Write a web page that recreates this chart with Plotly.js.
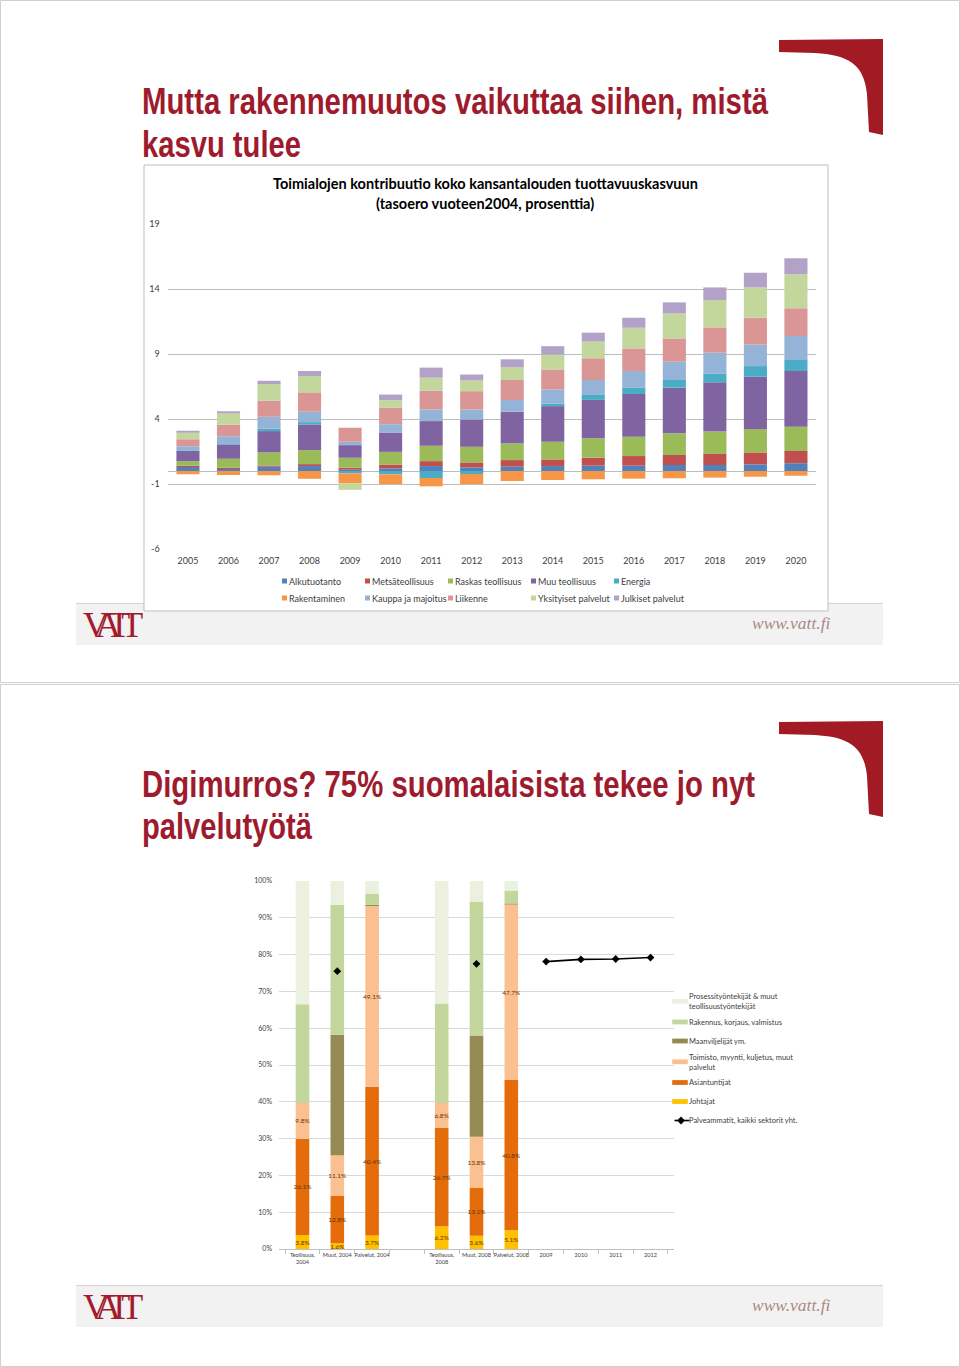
<!DOCTYPE html>
<html><head><meta charset="utf-8">
<script src="https://cdn.plot.ly/plotly-3.0.1.min.js"></script>
<style>html,body{margin:0;padding:0;background:#fff}</style>
</head><body><div id="chart" style="width:960px;height:1367px"></div>
<script>
// ---------- Chart 1 data ----------
const years = ['2005','2006','2007','2008','2009','2010','2011','2012','2013','2014','2015','2016','2017','2018','2019','2020'];
const alkutuotanto     = [0.30,0.15,0.33,0.38,0.10,0.20,0.38,0.28,0.33,0.38,0.41,0.41,0.46,0.46,0.51,0.59];
const metsateollisuus  = [0.10,0.10,0.10,0.15,0.15,0.30,0.38,0.38,0.51,0.51,0.62,0.74,0.77,0.85,0.92,0.95];
const raskasTeollisuus = [0.35,0.70,1.00,1.08,0.77,0.97,1.18,1.20,1.28,1.36,1.49,1.49,1.67,1.72,1.79,1.87];
const muuTeollisuus    = [0.80,1.08,1.64,1.97,0.97,1.49,1.90,2.10,2.44,2.74,2.95,3.28,3.51,3.79,4.03,4.28];
const energia          = [0.05,0.05,0.20,0.18,-0.18,-0.26,-0.54,-0.23,0.00,0.20,0.38,0.51,0.59,0.69,0.82,0.85];
const rakentaminen     = [-0.25,-0.30,-0.33,-0.60,-0.77,-0.74,-0.64,-0.77,-0.77,-0.69,-0.64,-0.59,-0.56,-0.51,-0.44,-0.36];
const kauppaMajoitus   = [0.30,0.60,0.90,0.80,0.26,0.64,0.90,0.77,0.90,1.08,1.15,1.26,1.41,1.59,1.67,1.85];
const liikenne         = [0.55,0.87,1.23,1.49,1.08,1.28,1.44,1.41,1.54,1.54,1.67,1.74,1.79,1.95,2.05,2.13];
const yksityisetPalv   = [0.50,0.87,1.28,1.26,-0.50,0.56,1.00,0.82,0.97,1.15,1.28,1.59,1.92,2.10,2.33,2.62];
const julkisetPalv     = [0.15,0.18,0.26,0.38,0.00,0.44,0.77,0.46,0.62,0.64,0.69,0.77,0.85,0.97,1.13,1.23];
const yTickVals1   = [-6, -1, 4, 9, 14, 19];
const yTickLabels1 = ['-6', '-1', '4', '9', '14', '19'];

const series1 = [
  ['Alkutuotanto', alkutuotanto, '#4F81BD', 'legend'],
  ['Metsäteollisuus', metsateollisuus, '#C0504D', 'legend'],
  ['Raskas teollisuus', raskasTeollisuus, '#9BBB59', 'legend'],
  ['Muu teollisuus', muuTeollisuus, '#8064A2', 'legend'],
  ['Energia', energia, '#4BACC6', 'legend'],
  ['Rakentaminen', rakentaminen, '#F79646', 'legend2'],
  ['Kauppa ja majoitus', kauppaMajoitus, '#95B3D7', 'legend2'],
  ['Liikenne', liikenne, '#D99694', 'legend2'],
  ['Yksityiset palvelut', yksityisetPalv, '#C3D69B', 'legend2'],
  ['Julkiset palvelut', julkisetPalv, '#B3A2C7', 'legend2']
];

// ---------- Chart 2 data ----------
const groups = ['Teollisuus,<br>2004','Muut, 2004','Palvelut, 2004',' ','Teollisuus,<br>2008','Muut, 2008','Palvelut, 2008','2009','2010','2011','2012'];
const johtajat       = [3.8, 1.6, 3.7, null, 6.2, 3.6, 5.1, null, null, null, null];
const asiantuntijat  = [26.1,12.8,40.4,null,26.7,13.1,40.8,null,null,null,null];
const toimisto       = [9.8, 11.1,49.1,null, 6.8,13.8,47.7,null,null,null,null];
const maanviljelijat = [0.0, 32.7, 0.3,null, 0.0,27.5, 0.3,null,null,null,null];
const rakennus       = [26.8,35.3, 3.1,null,27.0,36.4, 3.5,null,null,null,null];
const prosessi       = [33.5, 6.5, 3.4,null,33.3, 5.6, 2.6,null,null,null,null];
const palveammatit   = [null,75.5,null,null,null,77.5,null,78.1,78.7,78.8,79.2];

const W = 960, H = 1367;
const px = x => x / W;
const py = y => 1 - y / H;

const calibri = 'Lato, Carlito, Calibri, sans-serif';
const boldSans = "'Liberation Sans', Arial, sans-serif";
const titleRed = '#9E1B2E';

const traces = [];
series1.forEach(([name, vals, color, lg], i) => {
  const t = {type:'bar', x: years, y: vals, name, legend: lg,
    marker:{color, line:{width:0}}, width:0.57, xaxis:'x', yaxis:'y', hoverinfo:'skip'};
  if (i % 5 === 4) t.legendwidth = 80;   // last column: room for the full text
  traces.push(t);
});

// line first so that it ends last in the reversed legend
traces.push({type:'scatter', mode:'lines+markers', x: groups, y: palveammatit,
  name:'Palveammatit, kaikki sektorit yht.', connectgaps:false, legend:'legend3',
  line:{color:'#000000', width:1.6}, marker:{symbol:'diamond', size:6, color:'#000000'},
  xaxis:'x2', yaxis:'y2', hoverinfo:'skip'});

const series2 = [
  ['Johtajat', johtajat, '#FFC000', true],
  ['Asiantuntijat', asiantuntijat, '#E46C0A', true],
  ['Toimisto, myynti, kuljetus, muut<br>palvelut', toimisto, '#FAC090', true],
  ['Maanviljelijät ym.', maanviljelijat, '#948A54', false],
  ['Rakennus, korjaus, valmistus', rakennus, '#C3D69B', false],
  ['Prosessityöntekijät & muut<br>teollisuustyöntekijät', prosessi, '#EBF1DE', false]
];
series2.forEach(([name, vals, color, lab]) => {
  const t = {type:'bar', x: groups, y: vals, name, legend:'legend3',
    marker:{color, line:{width:0}}, width:0.39, xaxis:'x2', yaxis:'y2', hoverinfo:'skip'};
  if (lab) {
    t.texttemplate = '%{y:.1f}%';
    t.textposition = 'inside';
    t.insidetextanchor = 'middle';
    t.textangle = 0;
    t.textfont = {family: calibri, size: 6.5, color: '#6B3300'};
  }
  traces.push(t);
});

function rect(x0,y0,x1,y1,fill,lineColor,lw){
  return {type:'rect', xref:'paper', yref:'paper', x0:px(x0), x1:px(x1), y0:py(y0), y1:py(y1),
    fillcolor:fill, line:{color:lineColor||'rgba(0,0,0,0)', width:lw||0}, layer:'below'};
}
function hline(x0,x1,y,color,w){
  return {type:'line', xref:'paper', yref:'paper', x0:px(x0), x1:px(x1), y0:py(y), y1:py(y),
    line:{color, width:w||1}, layer:'below'};
}
function corner(dy){
  const p = (x,y) => px(x).toFixed(5) + ',' + py(y+dy).toFixed(5);
  return {type:'path', xref:'paper', yref:'paper', layer:'above',
    path: 'M' + p(779,40) + ' L' + p(883,39) + ' L' + p(883,135) + ' L' + p(869,132) +
          ' L' + p(867,94) + ' C' + p(864,64) + ' ' + p(848,55) + ' ' + p(815,53) + ' L' + p(779,52) + ' Z',
    fillcolor: '#A21A24', line:{width:0}};
}

const shapes = [
  rect(0.5,0.5,959.5,682.5,'rgba(0,0,0,0)','#D0D0D0',1),
  rect(0.5,684.5,959.5,1366.5,'rgba(0,0,0,0)','#D0D0D0',1),
  rect(76,603,883,645,'#F2F2F2'),
  hline(76,883,603.5,'#D3D3D3',1.2),
  rect(144,165,828,611,'#FFFFFF','#BFBFBF',1),
  rect(76,1285,883,1327,'#F2F2F2'),
  hline(76,883,1285.5,'#D3D3D3',1.2),
  corner(0),
  corner(682)
];

// target widths (px) for condensed slide titles
const titleFit = {};
function slideTitle(text, y, widthPx){
  titleFit[text] = widthPx;
  return {text, x:px(140), y:py(y), xref:'paper', yref:'paper', showarrow:false,
    xanchor:'left', yanchor:'middle', align:'left',
    font:{family:boldSans, size:37, color:titleRed, weight:'bold'}};
}
function ann(text, x, y, font, opts){
  return Object.assign({text, x:px(x), y:py(y), xref:'paper', yref:'paper', showarrow:false,
    xanchor:'left', yanchor:'middle', font}, opts||{});
}
const serif = "'Liberation Serif', 'DejaVu Serif', serif";
const annotations = [
  slideTitle('Mutta rakennemuutos vaikuttaa siihen, mistä', 101, 626),
  slideTitle('kasvu tulee', 144, 159),
  slideTitle('Digimurros? 75% suomalaisista tekee jo nyt', 784, 613),
  slideTitle('palvelutyötä', 827, 170),
  ann('Toimialojen kontribuutio koko kansantalouden tuottavuuskasvuun', 485, 183,
      {family:calibri, size:14.5, color:'#000000', weight:'bold'}, {xanchor:'center'}),
  ann('(tasoero vuoteen2004, prosenttia)', 485, 203,
      {family:calibri, size:14.5, color:'#000000', weight:'bold'}, {xanchor:'center'}),
  ann('<span style="letter-spacing:-9px">VATT</span>', 81, 625, {family:serif, size:36, color:'#A21A2E'}),
  ann('<span style="letter-spacing:-9px">VATT</span>', 81, 1307, {family:serif, size:36, color:'#A21A2E'}),
  ann('<i>www.vatt.fi</i>', 750, 623, {family:serif, size:17.5, color:'#A88A84'}),
  ann('<i>www.vatt.fi</i>', 750, 1305, {family:serif, size:17.5, color:'#A88A84'})
];

const legendBase = {orientation:'h', xanchor:'left', yanchor:'top', bgcolor:'rgba(0,0,0,0)',
  entrywidth:38, entrywidthmode:'pixels', itemwidth:30, font:{family:calibri, size:9, color:'#404040'},
  itemclick:false, itemdoubleclick:false};

const layout = {
  width: W, height: H,
  margin:{l:0, r:0, t:0, b:0},
  paper_bgcolor:'#FFFFFF', plot_bgcolor:'rgba(0,0,0,0)',
  barmode:'relative',
  hovermode:false,
  uniformtext:{mode:'show', minsize:6.5},
  xaxis:{domain:[167.7/W, 816.2/W], anchor:'y', type:'category', categoryorder:'array', categoryarray: years,
    showgrid:false, zeroline:false, showline:false, ticks:'', ticklabelstandoff:5, tickangle:0,
    tickfont:{family:calibri, size:9, color:'#404040'}, fixedrange:true},
  yaxis:{domain:[py(549), py(224)], anchor:'x', range:[-6,19], tickmode:'array',
    tickvals: yTickVals1, ticktext: yTickLabels1,
    showgrid:true, gridcolor:'#BDBDBD', gridwidth:1, zeroline:true, zerolinecolor:'#BDBDBD', zerolinewidth:1,
    showline:false, ticks:'', ticklabelstandoff:7, tickfont:{family:calibri, size:9, color:'#404040'}, fixedrange:true},
  xaxis2:{domain:[279/W, 674/W], anchor:'y2', type:'category', categoryorder:'array', categoryarray: groups,
    showgrid:false, zeroline:false, showline:true, linecolor:'#BFBFBF', linewidth:1,
    ticks:'outside', tickson:'boundaries', ticklen:4, tickcolor:'#BFBFBF', tickangle:0,
    tickfont:{family:calibri, size:5.6, color:'#404040'}, fixedrange:true},
  yaxis2:{domain:[py(1249), py(881)], anchor:'x2', range:[0,100], tickmode:'linear', tick0:0, dtick:10, ticksuffix:'%',
    showgrid:true, gridcolor:'#D9D9D9', gridwidth:1, zeroline:false, showline:false, ticks:'', ticklabelstandoff:6,
    tickfont:{family:calibri, size:7, color:'#404040'}, fixedrange:true},
  showlegend:true,
  legend: Object.assign({}, legendBase, {x:px(249), y:py(566.5)}),
  legend2: Object.assign({}, legendBase, {x:px(249), y:py(583.5)}),
  legend3:{orientation:'v', x:px(649), y:py(985), xanchor:'left', yanchor:'top', bgcolor:'rgba(0,0,0,0)',
    traceorder:'reversed', itemwidth:30, font:{family:calibri, size:7.5, color:'#404040'},
    itemclick:false, itemdoubleclick:false},
  shapes, annotations
};

function finishing(gd){
  // condense slide titles (Arial Narrow look) while keeping them as text
  gd.querySelectorAll('text.annotation-text').forEach(t => {
    const w = titleFit[t.textContent];
    if (w) {
      t.setAttribute('text-anchor', 'start');
      t.setAttribute('textLength', w);
      t.setAttribute('lengthAdjust', 'spacingAndGlyphs');
    }
  });
  // small legend keys placed right before the legend texts, like the original
  gd.querySelectorAll('g.legendpoints path').forEach(p => {
    const d = (p.getAttribute('d') || '').replace(/\s/g, '');
    if (d.indexOf('M6,6H-6V-6H6Z') !== 0) return;
    const inL3 = !!p.closest('g.legend3');
    p.setAttribute('transform', inL3 ? 'translate(31,0) scale(1.3,0.4)' : 'translate(35.5,0) scale(0.42)');
  });
  gd.querySelectorAll('g.legend3 path.js-line').forEach(p => {
    p.setAttribute('transform', 'translate(23,0) scale(0.5,1)');
  });
  gd.querySelectorAll('g.legend3 path.scatterpts').forEach(p => {
    p.setAttribute('transform', 'translate(32,0)');
  });
}

Plotly.newPlot('chart', traces, layout, {displayModeBar:false, staticPlot:true}).then(gd => {
  finishing(gd);
  gd.on('plotly_afterplot', () => finishing(gd));
  setTimeout(() => finishing(gd), 50);
});
</script></body></html>
